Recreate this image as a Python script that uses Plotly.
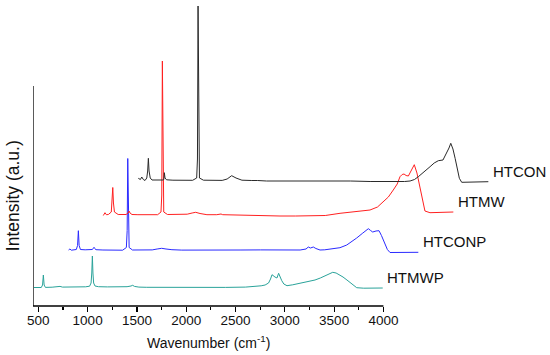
import plotly.graph_objects as go

# ---------------- data (wavenumber in cm-1, intensity in arbitrary units) ----------------
names = ["HTMWP", "HTCONP", "HTMW", "HTCON"]
colors = ["#2aa39a", "#2a2aff", "#ff2020", "#2a2a2a"]
x_offsets = [0, 355, 710, 1065]          # waterfall horizontal shift
y_offsets = [0, 37.5, 73, 107]           # waterfall vertical shift

wn_htmwp = [456, 500, 530, 543, 551, 559, 572, 640, 700, 720, 745, 820, 900, 980, 1020,
            1035, 1042, 1048, 1054, 1061, 1075, 1110, 1200, 1300, 1400, 1440, 1457, 1475,
            1520, 1600, 1800, 2000, 2200, 2400, 2600, 2700, 2760, 2800, 2835, 2855, 2870,
            2900, 2920, 2937, 2952, 2969, 2990, 3022, 3080, 3154, 3230, 3306, 3360, 3407,
            3450, 3486, 3520, 3560, 3590, 3630, 3670, 3700, 3729, 3800, 3900, 3993]
int_htmwp = [0.5, 0.3, 0.5, 3, 13, 3, 0.6, 0.8, 1.2, 1.6, 0.9, 0.8, 1.0, 1.2, 1.8,
             5, 15, 32, 15, 5, 2, 1.3, 1.1, 1.0, 1.3, 2.0, 2.7, 1.6,
             0.9, 0.7, 0.5, 0.4, 0.4, 0.6, 0.9, 1.5, 2.2, 3.0, 5, 9, 13.3,
             11, 10, 14.7, 11, 7.3, 4, 2.3, 3.2, 4.7, 6.3, 8, 10, 12,
             14, 15.7, 15, 13, 11, 8, 4.5, 2, 0.3, -0.2, 0, 0]

wn_htconp = [452, 465, 480, 500, 530, 543, 551, 559, 572, 620, 690, 703, 710, 717, 730,
             800, 900, 1000, 1038, 1046, 1052, 1058, 1066, 1100, 1200, 1300, 1350, 1396,
             1440, 1500, 1600, 1700, 1800, 1900, 2000, 2200, 2400, 2600, 2800, 2860, 2883,
             2905, 2934, 2960, 3002, 3050, 3103, 3150, 3204, 3273, 3330, 3374, 3430, 3492,
             3515, 3536, 3570, 3600, 3625, 3651, 3685, 3712, 3800, 3999]
int_htconp = [0.5, 1.5, 0.3, 0.5, 1, 5, 19.8, 5, 1, 0.7, 1, 2, 3.2, 2, 0.8,
              0.5, 0.3, 0.3, 3, 20, 92, 20, 3, 0.5, 0.3, 0.6, 1.5, 2.2,
              1.5, 0.8, 0.4, 0.3, 0.2, 0.2, 0.3, 0.5, 0.6, 0.5, 0.5, 1.5, 3.5,
              2.5, 3.5, 2, 0.5, 0.7, 1.2, 1.8, 2.8, 5.5, 9, 12.5, 17, 21.8,
              20, 18.5, 19.5, 19.8, 15, 8.8, 1, -2, -1.8, -1.8]

wn_htmw = [449, 466, 480, 500, 530, 538, 545, 552, 562, 600, 680, 700, 710, 720, 740,
           800, 900, 1000, 1034, 1042, 1048, 1054, 1062, 1100, 1200, 1300, 1350, 1386,
           1430, 1500, 1600, 1630, 1643, 1660, 1750, 1900, 2100, 2241, 2400, 2544, 2700,
           2850, 3002, 3154, 3230, 3289, 3340, 3390, 3430, 3458, 3480, 3499, 3520, 3543,
           3575, 3603, 3630, 3661, 3690, 3711, 3762, 3850, 3999]
int_htmw = [-0.5, 2.3, 0.3, 0.5, 3, 12, 27.5, 12, 3, 0.5, 0.5, 2, 4, 2, 0.5,
            0.3, 0.2, 0.3, 3, 20, 154, 20, 3, 0.5, 0.3, 0.8, 2, 2.7,
            1.5, 0.3, 0.3, 0.5, 1, 0.3, 0, -0.3, -0.7, -1, -1, -1, -0.5,
            1.7, 3.3, 5, 8, 13.3, 18, 25, 31, 38.3, 40.5, 41, 39.5, 39,
            45, 50.3, 42, 28.3, 14, 4, 2.3, 2.5, 3]

wn_htcon = [449, 470, 484, 500, 517, 535, 544, 551, 558, 570, 588, 650, 700, 708, 713,
            720, 735, 800, 900, 1000, 1041, 1049, 1055, 1061, 1069, 1110, 1200, 1300, 1350,
            1396, 1440, 1500, 1600, 1630, 1643, 1660, 1750, 1900, 2100, 2300, 2461, 2600,
            2800, 3032, 3150, 3205, 3250, 3289, 3350, 3408, 3450, 3492, 3539, 3577, 3600,
            3618, 3640, 3662, 3685, 3705, 3729, 3850, 3999]
int_htcon = [2.7, 1.5, 4, 1.5, 0.5, 3, 10, 22.7, 10, 3, 1, 0.8, 1, 1.5, 8.3,
             3, 1.2, 0.8, 0.7, 0.7, 3, 22, 175, 22, 3, 0.8, 0.5, 0.6, 2,
             5.3, 3, 0.8, 0.5, 0.8, 1, 0.5, 0, 0, 0.3, 0.3, 0.3, 0,
             -0.5, -0.7, -0.5, 0, 1.5, 4.3, 9, 14.3, 18, 20.3, 21, 27.7, 33,
             37.7, 32, 22.7, 12, 2.7, -1.3, -0.7, -0.7]

x_tick_vals = [500, 1000, 1500, 2000, 2500, 3000, 3500, 4000]
x_tick_text = ["500", "1000", "1500", "2000", "2500", "3000", "3500", "4000"]
x_minor_vals = [750, 1250, 1750, 2250, 2750, 3250, 3750]

series_wn = [wn_htmwp, wn_htconp, wn_htmw, wn_htcon]
series_int = [int_htmwp, int_htconp, int_htmw, int_htcon]

# ---------------- layout geometry ----------------
W, H = 550, 355
ML, MR, MT, MB = 33, 55, 2, 49
px_per_unit = 0.0986
x_min = 446
x_max = x_min + (W - ML - MR) / px_per_unit
y_min = -18
y_max = y_min + (H - MT - MB)
y_axis_top = 202
font = "Liberation Sans, Arial, sans-serif"

fig = go.Figure()
for name, col, xo, yo, wn, inten in zip(names, colors, x_offsets, y_offsets,
                                         series_wn, series_int):
    fig.add_trace(go.Scatter(
        x=[w + xo for w in wn], y=[v + yo for v in inten],
        mode="lines", name=name, line=dict(color=col, width=1),
        showlegend=False, hoverinfo="skip"))
    fig.add_annotation(
        x=wn[-1] + xo + 25, y=inten[-1] + yo + 10.5, xref="x", yref="y",
        text=name, showarrow=False, xanchor="left", yanchor="middle",
        font=dict(family=font, size=15, color="#111111"))

# axis lines drawn only over the scale span
fig.add_shape(type="line", xref="x", yref="paper", x0=x_min, x1=x_tick_vals[-1],
              y0=0, y1=0, line=dict(color="black", width=1.3))
fig.add_shape(type="line", xref="x", yref="y", x0=x_min, x1=x_min,
              y0=y_min, y1=y_axis_top, line=dict(color="black", width=1.3))

fig.add_annotation(x=(x_min + x_tick_vals[-1]) / 2, y=-0.12, xref="x", yref="paper",
                   text="Wavenumber (cm<sup>-1</sup>)", showarrow=False,
                   xanchor="center", yanchor="middle",
                   font=dict(family=font, size=14, color="#111111"))
fig.add_annotation(x=-0.043, y=(y_axis_top + y_min) / 2, xref="paper", yref="y",
                   text="Intensity (a.u.)", showarrow=False, textangle=-90,
                   xanchor="center", yanchor="middle",
                   font=dict(family=font, size=17.5, color="#111111"))

fig.update_layout(
    width=W, height=H, margin=dict(l=ML, r=MR, t=MT, b=MB),
    plot_bgcolor="white", paper_bgcolor="white",
    xaxis=dict(range=[x_min, x_max], showgrid=False, zeroline=False, showline=False,
               tickmode="array", tickvals=x_tick_vals, ticktext=x_tick_text,
               ticks="outside", ticklen=5, tickwidth=1.2, tickcolor="black",
               tickfont=dict(family=font, size=13.5, color="#111111"),
               minor=dict(tickmode="array", tickvals=x_minor_vals, ticks="outside",
                          ticklen=3, tickwidth=1.2, tickcolor="black")),
    yaxis=dict(range=[y_min, y_max], visible=False),
)
try:
    fig.update_xaxes(ticklabelstandoff=-3)
except ValueError:
    pass

fig.write_html("out.html", config={"displayModeBar": False, "staticPlot": True},
               post_script="document.body.style.margin='0px';"
                           "document.body.style.overflow='hidden';")
